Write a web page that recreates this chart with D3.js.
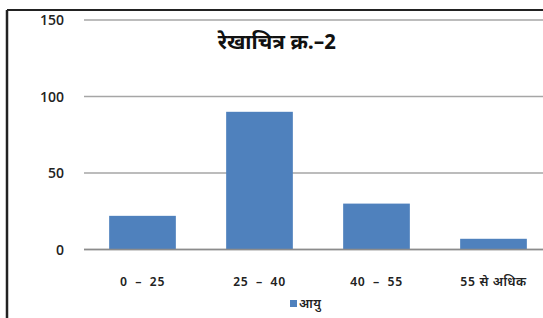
<!DOCTYPE html>
<html>
<head>
<meta charset="utf-8">
<script src="https://cdn.jsdelivr.net/npm/d3@7"></script>
<style>
  body { margin: 0; background: #fff; }
  .grid line { stroke: #a6a6a6; stroke-width: 1.5; }
  .ytick { font-family: "Open Sans", "Noto Sans", sans-serif; font-weight: 600; font-size: 14px; fill: #222; }
  .cat { font-family: "Noto Sans Devanagari", "Lohit Devanagari", "Noto Sans", sans-serif; font-weight: 600; font-size: 12.5px; fill: #222; white-space: pre; letter-spacing: 0.6px; }
  .title { font-family: "Noto Sans Devanagari", "Lohit Devanagari", "Noto Sans", sans-serif; font-weight: 700; font-size: 21px; fill: #111; }
</style>
</head>
<body>
<svg id="chart" width="543" height="318"></svg>
<script>
// data
const categories = ['0 – 25', '25 – 40', '40 – 55', '55 से अधिक'];
const values = [22, 90, 30, 7];
const yTicks = [0, 50, 100, 150];
const seriesName = 'आयु';
const titleText = 'रेखाचित्र क्र.–2';

const width = 543, height = 318;
const svg = d3.select('#chart');

// frame (cropped at right and bottom)
svg.append('line').attr('x1', 7).attr('x2', width).attr('y1', 10).attr('y2', 10)
  .attr('stroke', '#222').attr('stroke-width', 2);
svg.append('line').attr('x1', 7).attr('x2', 7).attr('y1', 10).attr('y2', height)
  .attr('stroke', '#222').attr('stroke-width', 2.5);

const x = d3.scaleBand()
  .domain(categories)
  .range([84, 552])
  .paddingInner(0.43)
  .paddingOuter(0.215);

const y = d3.scaleLinear()
  .domain([0, 150])
  .range([249.5, 20]);

// gridlines
svg.append('g').attr('class', 'grid')
  .selectAll('line')
  .data(yTicks)
  .join('line')
  .attr('x1', 84).attr('x2', width)
  .attr('y1', d => y(d)).attr('y2', d => y(d));

svg.append('g')
  .selectAll('text')
  .data(yTicks)
  .join('text')
  .attr('class', 'ytick')
  .attr('x', 64)
  .attr('y', d => y(d))
  .attr('dy', '0.36em')
  .attr('text-anchor', 'end')
  .text(d => d);

// bars
svg.append('g')
  .selectAll('rect')
  .data(values)
  .join('rect')
  .attr('x', (d, i) => x(categories[i]))
  .attr('width', x.bandwidth())
  .attr('y', d => y(d))
  .attr('height', d => y(0) - y(d))
  .attr('fill', '#4f81bd');

// baseline over bars
svg.append('line').attr('x1', 84).attr('x2', width)
  .attr('y1', y(0)).attr('y2', y(0))
  .attr('stroke', '#8c8c8c').attr('stroke-width', 1.5);

// category labels
svg.append('g')
  .selectAll('text')
  .data(categories)
  .join('text')
  .attr('class', 'cat')
  .attr('x', d => x(d) + x.bandwidth() / 2)
  .attr('y', 286)
  .attr('text-anchor', 'middle')
  .text(d => d.replace(' – ', '  –  '));

// title
svg.append('text').attr('class', 'title')
  .attr('x', 277).attr('y', 49)
  .attr('text-anchor', 'middle')
  .text(titleText);

// legend
const legend = svg.append('g').attr('transform', 'translate(290,300)');
legend.append('rect').attr('width', 7).attr('height', 7).attr('fill', '#4f81bd');
legend.append('text').attr('class', 'cat')
  .attr('x', 9).attr('y', 8)
  .text(seriesName);
</script>
</body>
</html>
